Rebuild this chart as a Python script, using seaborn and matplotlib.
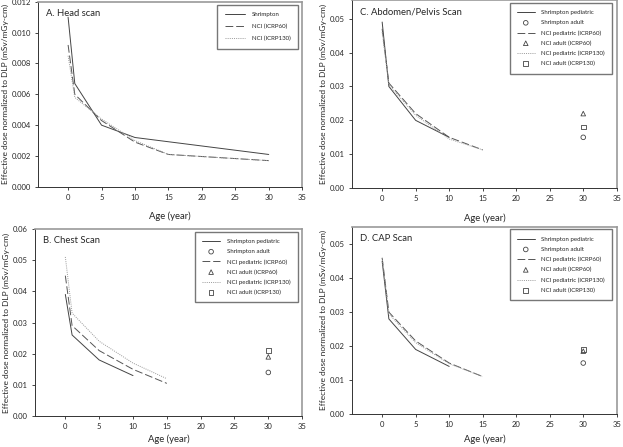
import pandas as pd
import numpy as np
import seaborn as sns
import matplotlib.pyplot as plt

sns.set_style('white')
plt.rcParams['font.family'] = ['Lato', 'DejaVu Sans']

# ages
ped_age_s = [0, 1, 5, 10]
ped_age_n = [0, 1, 5, 10, 15]
adult_age = 30

# A. Head scan
head_age_s = [0, 1, 5, 10, 30]
head_shr = [0.0110, 0.0067, 0.0040, 0.0032, 0.0021]
head_age_n = [0, 1, 5, 10, 15, 30]
head_nci60 = [0.0092, 0.0060, 0.0043, 0.0029, 0.0021, 0.0017]
head_nci130 = [0.0085, 0.0058, 0.0044, 0.0030, 0.0021, 0.0017]

# B. Chest scan
chest_shr = [0.039, 0.026, 0.018, 0.013]
chest_nci60 = [0.045, 0.029, 0.021, 0.015, 0.0105]
chest_nci130 = [0.051, 0.033, 0.024, 0.017, 0.012]
chest_adult = [0.014, 0.019, 0.021]

# C. Abdomen/Pelvis scan
ap_shr = [0.049, 0.030, 0.020, 0.015]
ap_nci60 = [0.047, 0.031, 0.022, 0.015, 0.0113]
ap_nci130 = [0.046, 0.0305, 0.0215, 0.0145, 0.0113]
ap_adult = [0.015, 0.022, 0.018]

# D. CAP scan
cap_shr = [0.045, 0.028, 0.019, 0.014]
cap_nci60 = [0.046, 0.030, 0.0215, 0.015, 0.011]
cap_nci130 = [0.046, 0.0295, 0.021, 0.0148, 0.011]
cap_adult = [0.015, 0.0185, 0.019]

head_labels = ['Shrimpton', 'NCI (ICRP60)', 'NCI (ICRP130)']
ped_labels = ['Shrimpton pediatric', 'NCI pediatric (ICRP60)', 'NCI pediatric (ICRP130)']
adult_labels = ['Shrimpton adult', 'NCI adult (ICRP60)', 'NCI adult (ICRP130)']
styles = [dict(ls='-'), dict(ls=(0, (8, 3))), dict(ls=(0, (1, 1.2)))]
line_colors = ['#444444', '#555555', '#999999']
markers = ['o', '^', 's']

fig = plt.figure(figsize=(6.23, 4.47), dpi=100)
pos = {
    'A': [0.061, 0.582, 0.424, 0.414],
    'C': [0.565, 0.579, 0.425, 0.421],
    'B': [0.056, 0.069, 0.429, 0.419],
    'D': [0.565, 0.074, 0.425, 0.419],
}


def style_axis(ax, title, ymax, yticks, fmt, xpad):
    ax.set_xlim(-4.5, 35)
    ax.set_ylim(0, ymax)
    ax.set_xticks(range(0, 36, 5))
    ax.set_yticks(yticks)
    ax.set_yticklabels([fmt.format(v) for v in yticks])
    ax.tick_params(axis='both', labelsize=5.5, length=2.5, width=0.6,
                   direction='out', bottom=True, left=True, pad=2.5)
    for s in ['left', 'bottom']:
        ax.spines[s].set_color('#333333')
        ax.spines[s].set_linewidth(0.7)
    for s in ['top', 'right']:
        ax.spines[s].set_color('#999999')
        ax.spines[s].set_linewidth(1.2)
    ax.set_xlabel('Age (year)', fontsize=6.8, labelpad=xpad)
    ax.set_ylabel('Effective dose normalized to DLP (mSv/mGy-cm)', fontsize=6.0, labelpad=2)
    ax.text(0.03, 0.96, title, transform=ax.transAxes, fontsize=6.8, va='top', ha='left')


def boxed_legend(ax, handles, labels, hl, spacing):
    leg = ax.legend(handles, labels, loc='upper right', fontsize=4.4, frameon=True,
                    fancybox=False, borderpad=1.2, handlelength=hl, handletextpad=1.1,
                    labelspacing=spacing, bbox_to_anchor=(0.99, 0.995),
                    borderaxespad=0.3)
    leg.get_frame().set_edgecolor('#555555')
    leg.get_frame().set_linewidth(1.0)


def panel(ax, ped_s, ped_n60, ped_n130, adult):
    series = [(ped_age_s, ped_s), (ped_age_n, ped_n60), (ped_age_n, ped_n130)]
    for i, (xs, ys) in enumerate(series):
        df = pd.DataFrame({'age': xs, 'dose': ys})
        sns.lineplot(data=df, x='age', y='dose', ax=ax, color=line_colors[i],
                     lw=0.7, label=ped_labels[i], **styles[i])
        df_a = pd.DataFrame({'age': [adult_age], 'dose': [adult[i]]})
        sns.scatterplot(data=df_a, x='age', y='dose', ax=ax, marker=markers[i],
                        s=11, facecolor='none', edgecolor='#444444', linewidth=0.6,
                        label=adult_labels[i])
    h, l = ax.get_legend_handles_labels()
    boxed_legend(ax, h, l, 2.9, 0.78)


# A
axA = fig.add_axes(pos['A'])
for i, (xs, ys) in enumerate([(head_age_s, head_shr), (head_age_n, head_nci60), (head_age_n, head_nci130)]):
    df = pd.DataFrame({'age': xs, 'dose': ys})
    sns.lineplot(data=df, x='age', y='dose', ax=axA, color=line_colors[i], lw=0.7,
                 label=head_labels[i], **styles[i])
hA, lA = axA.get_legend_handles_labels()
boxed_legend(axA, hA, lA, 3.3, 1.1)
style_axis(axA, 'A. Head scan', 0.012, np.arange(0, 0.0121, 0.002), '{:.3f}', 8)

# B
axB = fig.add_axes(pos['B'])
panel(axB, chest_shr, chest_nci60, chest_nci130, chest_adult)
style_axis(axB, 'B. Chest Scan', 0.06, np.arange(0, 0.061, 0.01), '{:.2f}', 3)

# C
axC = fig.add_axes(pos['C'])
panel(axC, ap_shr, ap_nci60, ap_nci130, ap_adult)
style_axis(axC, 'C. Abdomen/Pelvis Scan', 0.0555, np.arange(0, 0.051, 0.01), '{:.2f}', 8)

# D
axD = fig.add_axes(pos['D'])
panel(axD, cap_shr, cap_nci60, cap_nci130, cap_adult)
style_axis(axD, 'D. CAP Scan', 0.0552, np.arange(0, 0.051, 0.01), '{:.2f}', 5)

fig.savefig('out.png', dpi=100)
